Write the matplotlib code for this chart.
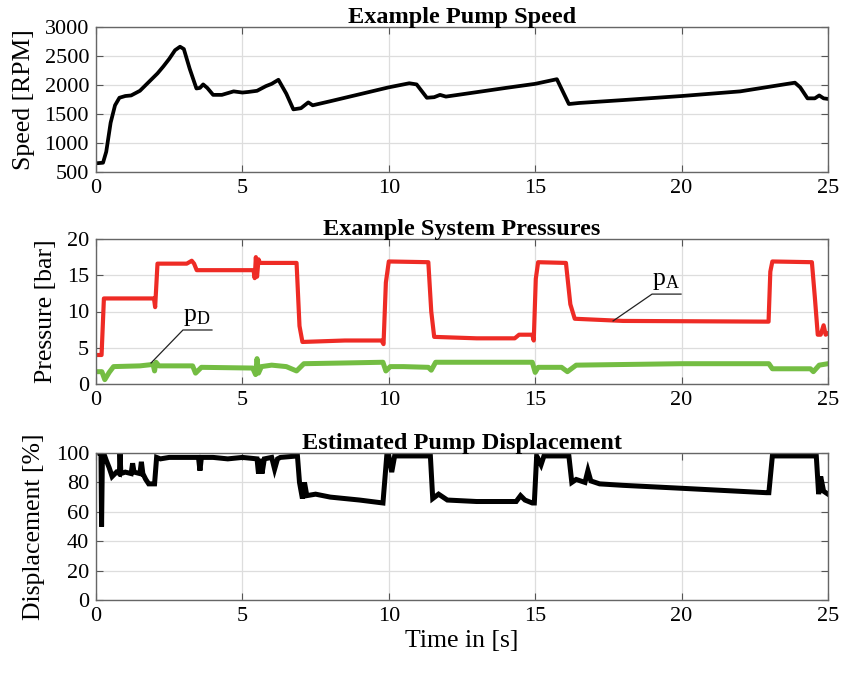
import matplotlib
matplotlib.use("Agg")
import matplotlib.pyplot as plt

plt.rcParams['font.family'] = ['Liberation Serif', 'DejaVu Serif']
plt.rcParams['mathtext.fontset'] = 'custom'
plt.rcParams['mathtext.rm'] = 'Liberation Serif'
plt.rcParams['mathtext.it'] = 'Liberation Serif'

# ---------------- data ----------------
speed_t = [0, 0.24, 0.35, 0.5, 0.65, 0.8, 1.0, 1.2, 1.5, 1.8, 2.1, 2.3, 2.5, 2.7, 2.87, 3.0,
           3.2, 3.43, 3.55, 3.66, 3.8, 4.0, 4.3, 4.7, 5.0, 5.2, 5.5, 5.8, 6.0, 6.23, 6.5,
           6.74, 7.0, 7.25, 7.4, 8.0, 9.0, 10.0, 10.7, 10.95, 11.3, 11.55, 11.75, 11.95,
           12.5, 14.0, 15.0, 15.74, 16.15, 16.5, 18.0, 20.0, 22.0, 23.87, 24.05, 24.3,
           24.55, 24.7, 24.85, 25.0]
speed_rpm = [650, 660, 850, 1350, 1650, 1780, 1810, 1820, 1900, 2050, 2200, 2320, 2450, 2600,
             2660, 2620, 2280, 1940, 1950, 2010, 1950, 1830, 1830, 1890, 1870, 1880, 1900, 1980,
             2020, 2090, 1850, 1580, 1600, 1700, 1650, 1720, 1840, 1960, 2030, 2010, 1780,
             1790, 1830, 1800, 1840, 1950, 2020, 2100, 1672, 1690, 1740, 1810, 1890, 2040,
             1960, 1770, 1770, 1820, 1770, 1760]

pA_t = [0, 0.19, 0.27, 1.0, 1.98, 2.02, 2.1, 3.1, 3.27, 3.35, 3.44, 5.38, 5.42, 5.46, 5.5,
        5.55, 5.6, 6.85, 6.95, 7.05, 8.5, 9.75, 9.82, 9.9, 10.0, 11.35, 11.45, 11.55, 13.0,
        14.3, 14.45, 14.9, 14.95, 15.02, 15.1, 16.05, 16.2, 16.35, 18.0, 22.97, 23.03, 23.1,
        24.45, 24.55, 24.65, 24.75, 24.85, 24.92, 25.0]
pA_bar = [4.0, 4.0, 11.8, 11.8, 11.8, 10.6, 16.6, 16.6, 17.0, 16.6, 15.7, 15.7, 14.6, 17.5, 14.8,
          17.2, 16.7, 16.7, 8.0, 5.8, 6.0, 6.0, 5.5, 14.0, 16.9, 16.8, 10.0, 6.5, 6.3,
          6.3, 6.8, 6.8, 6.0, 14.5, 16.8, 16.7, 11.0, 9.0, 8.7, 8.6, 15.5, 16.9,
          16.8, 12.0, 6.8, 6.8, 8.1, 6.8, 7.0]

pD_t = [0, 0.2, 0.3, 0.45, 0.6, 1.5, 1.95, 2.0, 2.05, 2.15, 3.3, 3.4, 3.5, 3.6, 5.35, 5.45,
        5.5, 5.55, 5.65, 6.0, 6.5, 6.85, 7.1, 8.5, 9.8, 9.9, 10.05, 10.5, 11.35, 11.45, 11.6,
        13.0, 14.9, 15.0, 15.1, 15.9, 16.1, 16.4, 20.0, 22.98, 23.1, 24.4, 24.5, 24.7, 25.0]
pD_bar = [1.7, 1.7, 0.6, 1.6, 2.4, 2.5, 2.7, 1.8, 3.0, 2.5, 2.5, 1.5, 1.9, 2.3, 2.2, 1.3,
          3.5, 1.5, 2.4, 2.6, 2.4, 1.8, 2.8, 2.9, 3.0, 1.8, 2.4, 2.4, 2.3, 1.9, 3.0,
          3.0, 3.0, 1.6, 2.3, 2.3, 1.7, 2.6, 2.8, 2.8, 2.1, 2.1, 1.7, 2.6, 2.8]

disp_t = [0.13, 0.17, 0.19, 0.22, 0.26, 0.35, 0.45, 0.55, 0.7, 0.8, 0.82, 0.85, 1.0, 1.2,
          1.25, 1.3, 1.5, 1.55, 1.6, 1.7, 1.8, 2.0, 2.07, 2.2, 2.5, 3.0, 3.5, 3.55, 3.6, 4.0,
          4.5, 5.0, 5.5, 5.55, 5.6, 5.67, 5.75, 6.0, 6.1, 6.2, 6.3, 6.88, 6.95, 7.05, 7.12,
          7.2, 7.5, 8.0, 9.0, 9.8, 9.93, 10.0, 10.1, 10.2, 11.42, 11.5, 11.7, 12.0, 13.0,
          14.35, 14.5, 14.65, 14.9, 14.97, 15.05, 15.2, 15.3, 16.15, 16.25, 16.4, 16.7,
          16.8, 16.9, 17.2, 18.0, 20.0, 22.9, 22.98, 23.1, 24.5, 24.6, 24.68, 24.75, 24.85,
          25.0]
disp_pct = [100, 100, 50, 100, 100, 95, 90, 84, 87, 86, 100, 86, 87, 86, 93, 87, 86, 94, 86,
            82, 79, 79, 97, 96, 97, 97, 97, 88, 97, 97, 96, 97, 96, 86, 96, 86, 96, 97, 89,
            96, 97, 98, 80, 69, 80, 71, 72, 70, 68, 66, 98, 98, 87, 98, 98, 69, 72, 68, 67,
            67, 71, 68, 66, 66, 98, 92, 98, 98, 80, 82, 80, 88, 81, 79, 78, 76, 73, 73, 98,
            98, 98, 72, 84, 74, 72]

speed_ticks = [500, 1000, 1500, 2000, 2500, 3000]
pressure_ticks = [0, 5, 10, 15, 20]
disp_ticks = [0, 20, 40, 60, 80, 100]
time_ticks = [0, 5, 10, 15, 20, 25]

titles = ["Example Pump Speed", "Example System Pressures", "Estimated Pump Displacement"]
ylabels = ["Speed [RPM]", "Pressure [bar]", "Displacement [%]"]
xlabel = "Time in [s]"

# ---------------- figure ----------------
W, H = 841, 674
fig = plt.figure(figsize=(W / 100, H / 100), dpi=100)

left = 96 / W
width = (828 - 96) / W
def rect(top_px, bot_px):
    return [left, 1 - bot_px / H, width, (bot_px - top_px) / H]

ax1 = fig.add_axes(rect(27, 172))
ax2 = fig.add_axes(rect(239, 384))
ax3 = fig.add_axes(rect(453, 600))
axes = [ax1, ax2, ax3]

TICK_FS = 16
TITLE_FS = 17.5
LABEL_FS = 18.5
red = '#ee2b25'
green = '#74bd43'

ax1.plot(speed_t, speed_rpm, color='black', lw=2.7, solid_joinstyle='round')
ax1.set_ylim(500, 3000)
ax1.set_yticks(speed_ticks)

ax2.plot(pA_t, pA_bar, color=red, lw=3.0)
ax2.plot(pD_t, pD_bar, color=green, lw=3.6)
ax2.set_ylim(0, 20)
ax2.set_yticks(pressure_ticks)

ax3.plot(disp_t, disp_pct, color='black', lw=3.6, solid_joinstyle='miter')
ax3.set_ylim(0, 100)
ax3.set_yticks(disp_ticks)

label_x = [-0.083, -0.053, -0.070]
for ax, title, yl, lx in zip(axes, titles, ylabels, label_x):
    ax.set_xlim(0, 25)
    ax.set_xticks(time_ticks)
    ax.grid(True, color='#dddddd', lw=0.9)
    ax.set_axisbelow(True)
    ax.tick_params(direction='in', top=True, right=True, length=5, width=0.8,
                   color='#555555', labelsize=TICK_FS, pad=5)
    for s in ax.spines.values():
        s.set_color('#666666')
        s.set_linewidth(1.0)
    ax.set_title(title, fontsize=TITLE_FS, fontweight='bold', pad=3)
    ax.set_ylabel(yl, fontsize=LABEL_FS)
    ax.yaxis.set_label_coords(lx, 0.5)

ax3.set_xlabel(xlabel, fontsize=LABEL_FS, labelpad=3)

# annotations for p_D and p_A
ax2.plot([1.88, 2.97, 3.96], [2.9, 7.45, 7.45], color='#222222', lw=0.9)
ax2.text(2.97, 7.7, r'p$_\mathregular{D}$', fontsize=LABEL_FS, ha='left', va='bottom')
ax2.plot([17.66, 18.99, 19.98], [8.7, 12.4, 12.4], color='#222222', lw=0.9)
ax2.text(19.0, 12.65, r'p$_\mathregular{A}$', fontsize=LABEL_FS, ha='left', va='bottom')

fig.savefig("out.png", dpi=100)
